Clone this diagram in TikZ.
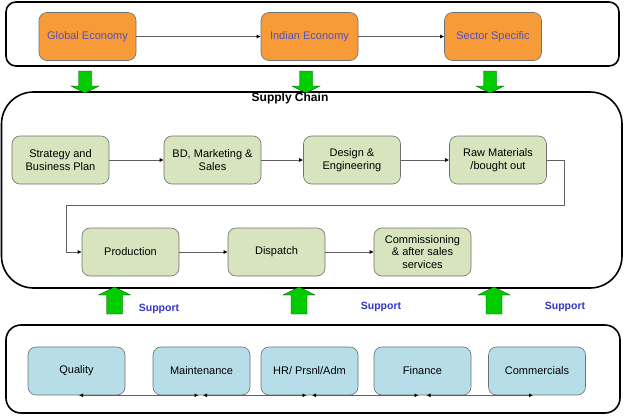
\documentclass[tikz,border=0pt]{standalone}
\usepackage{fontspec}
\setmainfont{Liberation Sans}
\usetikzlibrary{arrows.meta,calc}
\definecolor{orangefill}{HTML}{F79A38}
\definecolor{orangetext}{HTML}{5050C0}
\definecolor{greenfill}{HTML}{D7E4BD}
\definecolor{bluefill}{HTML}{B7DEE8}
\definecolor{boxborder}{HTML}{707070}
\definecolor{arrowgreen}{HTML}{00CC00}
\definecolor{supportblue}{HTML}{3333CC}
\definecolor{connline}{HTML}{606060}
\begin{document}
\begin{tikzpicture}[x=1pt,y=-1pt,
  frame/.style={draw=black,line width=1.6pt},
  basebox/.style={draw=boxborder,line width=0.6pt,rounded corners=8pt,minimum width=97pt,minimum height=48pt,align=center,inner sep=2pt,font=\fontsize{11}{12.8}\selectfont},
  econbox/.style={basebox,fill=orangefill,text=orangetext},
  chainbox/.style={basebox,fill=greenfill,text=black},
  supbox/.style={basebox,fill=bluefill,text=black},
  conn/.style={draw=connline,line width=0.7pt,-{Latex[length=4pt,width=4pt,black]}},
  dconn/.style={draw=connline,line width=0.7pt,{Latex[length=4pt,width=4pt,black]}-{Latex[length=4pt,width=4pt,black]}},
  bigarrow/.style={fill=arrowgreen,draw=black!60!arrowgreen,line width=0.4pt},
  supportlbl/.style={text=supportblue,font=\bfseries\fontsize{10.5}{12}\selectfont}
]
\useasboundingbox (0,0) rectangle (624,418);
% frames
\draw[frame,rounded corners=10pt] (6,2) rectangle (619,66);
\draw[frame,rounded corners=32pt] (1.5,92) rectangle (622,288);
\draw[frame,rounded corners=15pt] (6,325) rectangle (620,413);

% top row
\node[econbox] (ge) at (87.5,36.5) {Global Economy};
\node[econbox] (ie) at (309.5,36.5) {Indian Economy};
\node[econbox] (ss) at (493,36.5) {Sector Specific};
\draw[conn] (ge) -- (ie);
\draw[conn] (ie) -- (ss);

% green down arrows
\foreach \cx in {85,306,490}{
  \path[bigarrow] (\cx-6.5,71) -- (\cx+6.5,71) -- (\cx+6.5,86) -- (\cx+14,86) -- (\cx,93) -- (\cx-14,86) -- (\cx-6.5,86) -- cycle;
}

\node[font=\bfseries\fontsize{12}{14}\selectfont] (sc) at (290,98) {Supply Chain};

% supply chain row 1
\node[chainbox] (st) at (60.5,160) {Strategy and\\Business Plan};
\node[chainbox] (bd) at (212.5,160) {BD, Marketing \&\\Sales};
\node[chainbox] (de) at (352,160) {Design \&\\Engineering};
\node[chainbox] (rm) at (498,160) {Raw Materials\\/bought  out};
% row 2
\node[chainbox] (pr) at (130.5,252) {Production};
\node[chainbox] (di) at (276.5,252) {Dispatch};
\node[chainbox] (co) at (422.5,252) {Commissioning\\\& after sales\\services};

\draw[conn] (st) -- (bd);
\draw[conn] (bd) -- (de);
\draw[conn] (de) -- (rm);
\coordinate (t1) at (564,205);
\coordinate (t2) at (66,205);
\draw[conn] (rm.east) -| (t1) -- (t2) |- (pr.west);
\draw[conn] (pr) -- (di);
\draw[conn] (di) -- (co);

% green up arrows
\foreach \cx in {114.5,299,494}{
  \path[bigarrow] (\cx-8,314) -- (\cx+8,314) -- (\cx+8,295) -- (\cx+16,295) -- (\cx,287) -- (\cx-16,295) -- (\cx-8,295) -- cycle;
}
\node[supportlbl] (s1) at (159,309) {Support};
\node[supportlbl] (s2) at (381,307) {Support};
\node[supportlbl] (s3) at (565,307) {Support};

% support functions
\node[supbox] (qu) at (76.5,371) {Quality};
\node[supbox] (ma) at (201.5,371) {Maintenance};
\node[supbox] (hr) at (309.5,371) {HR/ Prsnl/Adm};
\node[supbox] (fi) at (422.5,371) {Finance};
\node[supbox] (cm) at (537,371) {Commercials};

\draw[dconn] ([xshift=2.5pt]qu.south) -- ([xshift=-3pt]ma.south);
\draw[dconn] ([xshift=1.5pt]ma.south) -- ([xshift=-3pt]hr.south);
\draw[dconn] ([xshift=2.5pt]hr.south) -- ([xshift=-4pt]fi.south);
\draw[dconn] ([xshift=4pt]fi.south) -- ([xshift=-4pt]cm.south);
\end{tikzpicture}
\end{document}
